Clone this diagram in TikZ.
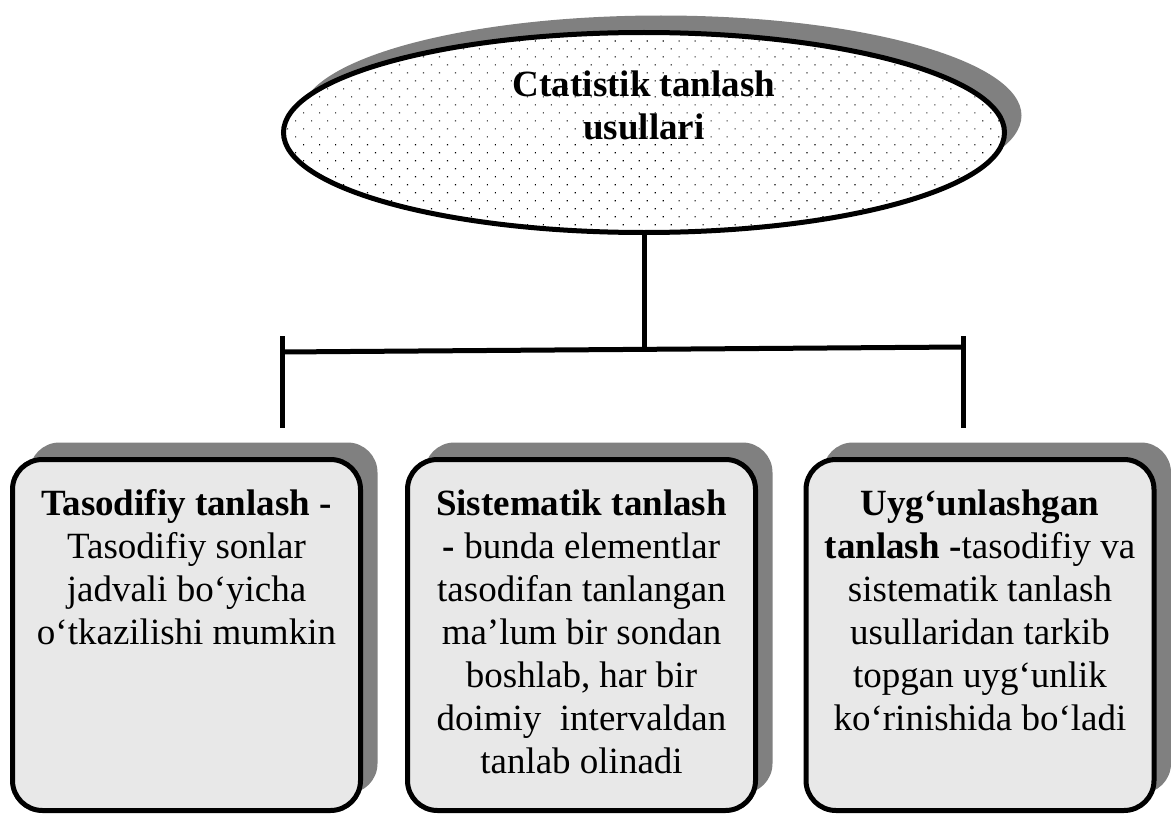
\documentclass[tikz,border=0pt]{standalone}
\usepackage{fontspec}
\setmainfont{Liberation Serif}
\usetikzlibrary{shapes.geometric,shadows,patterns.meta}
\begin{document}
\begin{tikzpicture}[x=1pt,y=-1pt,
		every node/.style={inner sep=0pt,outer sep=0pt},
		castshadow/.style={drop shadow={shadow xshift=17pt,shadow yshift=17pt,fill=black!50,opacity=1}},
		oval/.style={ellipse,draw=black,line width=5pt,castshadow,preaction={fill=white},
			pattern={Dots[distance=11.3pt,radius=0.8pt,angle=45]},minimum width=721pt,minimum height=200pt},
		card/.style={rectangle,rounded corners=30pt,draw=black,line width=5pt,castshadow,
			fill=black!9,minimum width=348pt,minimum height=351pt},
		words/.style={anchor=base,font=\fontsize{37}{43}\selectfont},
		link/.style={line width=5pt}]
		\path[use as bounding box,fill=white] (0,0) rectangle (1171,816);
		\node[oval] (root) at (644,132.5) {};
		\node[words] (rootText) at (644,97) {\parbox[t]{400pt}{\centering\bfseries Ctatistik tanlash\\usullari}};
		\node[card] (b1) at (186.5,635) {};
		\node[card] (b2) at (581.5,635) {};
		\node[card] (b3) at (980,635) {};
		\node[words] (t1) at (186.5,515) {\parbox[t]{340pt}{\centering\textbf{Tasodifiy tanlash -}\\Tasodifiy sonlar\\jadvali bo‘yicha\\o‘tkazilishi mumkin}};
		\node[words] (t2) at (581.5,515) {\parbox[t]{340pt}{\centering\textbf{Sistematik tanlash}\\\textbf{-} bunda elementlar\\tasodifan tanlangan\\ma’lum bir sondan\\boshlab, har bir\\doimiy~ intervaldan\\tanlab olinadi}};
		\node[words] (t3) at (980,515) {\parbox[t]{340pt}{\centering\textbf{Uyg‘unlashgan}\\\textbf{tanlash -}tasodifiy va\\sistematik tanlash\\usullaridan tarkib\\topgan uyg‘unlik\\ko‘rinishida bo‘ladi}};
		\coordinate (hub) at (644,349.5);
		\coordinate (barL) at (282,352);
		\coordinate (barR) at (963,347);
		\coordinate (capL) at (282,336);
		\coordinate (legL) at (282,428);
		\coordinate (capR) at (963,336);
		\coordinate (legR) at (963,428);
		\draw[link] (root.south) -- (hub);
		\draw[link] (barL) -- (barR);
		\draw[link] (capL) -- (legL);
		\draw[link] (capR) -- (legR);
	\end{tikzpicture}
\end{document}
